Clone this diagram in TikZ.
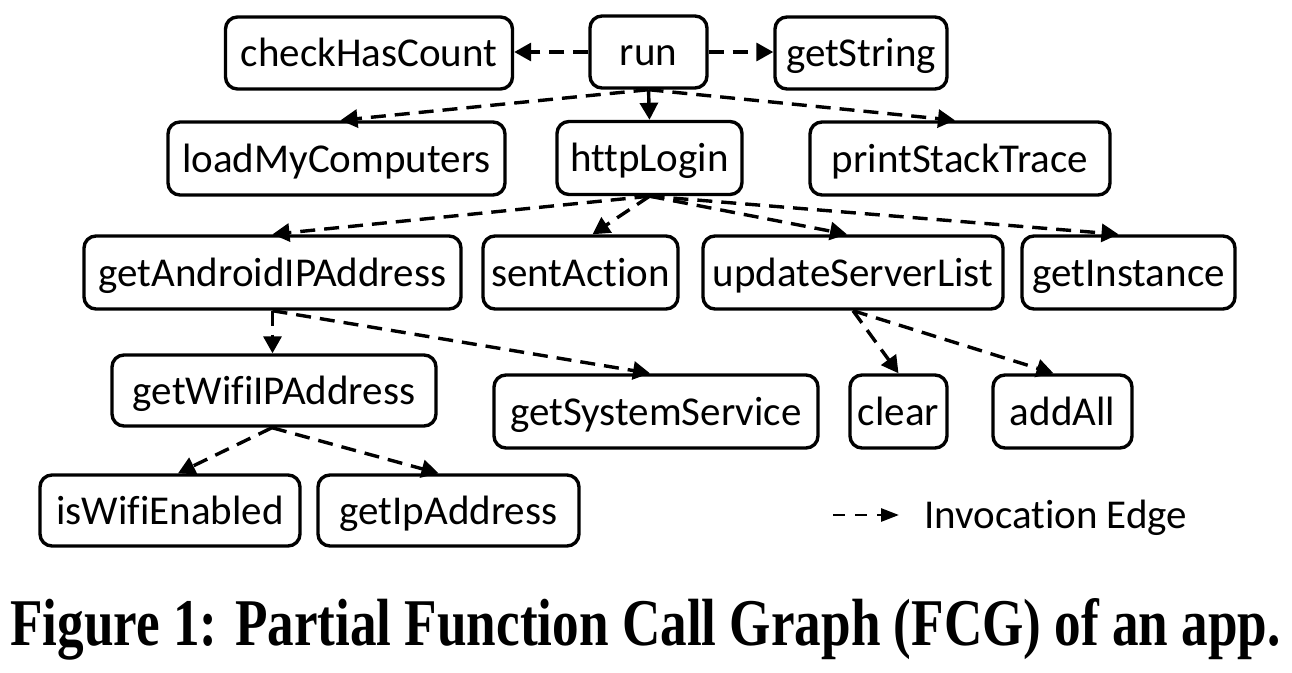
\documentclass[tikz,border=0pt]{standalone}
\usepackage{fontspec}
\setmainfont{Carlito}[RawFeature={-liga}]
\newfontfamily\capfont{Liberation Serif}
\usetikzlibrary{arrows.meta,calc}
\tikzset{
  fn/.style={draw, line width=3.4pt, rounded corners=12pt, inner sep=0pt,
    font=\fontsize{41}{49}\selectfont, text height=31pt, text depth=4pt},
  call/.style={line width=3.4pt, dash pattern=on 15pt off 9pt,
    -{Triangle[length=17pt,width=18pt]}},
  legcall/.style={line width=2.8pt, dash pattern=on 12pt off 10pt,
    -{Triangle[length=18pt,width=13pt]}},
  legtext/.style={inner sep=0pt, font=\fontsize{41}{49}\selectfont},
}
\begin{document}
\begin{tikzpicture}[x=1pt,y=-1pt]
\useasboundingbox (0,0) rectangle (1292,672);
% row 1
\node[fn, minimum width=287pt, minimum height=72pt] (checkHasCount) at (369,53) {checkHasCount};
\node[fn, minimum width=117pt, minimum height=72pt] (run) at (648.5,52) {run};
\node[fn, minimum width=172pt, minimum height=72pt] (getString) at (861,53) {getString};
% row 2
\node[fn, minimum width=337pt, minimum height=73pt] (loadMyComputers) at (336.5,158.5) {loadMyComputers};
\node[fn, minimum width=185pt, minimum height=73pt] (httpLogin) at (649.5,158) {httpLogin};
\node[fn, minimum width=300pt, minimum height=73pt] (printStackTrace) at (960,158.5) {printStackTrace};
% row 3
\node[fn, minimum width=377pt, minimum height=73pt] (getAndroidIPAddress) at (272.5,272.5) {getAndroidIPAddress};
\node[fn, minimum width=195pt, minimum height=73pt] (sentAction) at (580.5,272.5) {sentAction};
\node[fn, minimum width=300pt, minimum height=73pt] (updateServerList) at (853,272.5) {updateServerList};
\node[fn, minimum width=213pt, minimum height=73pt] (getInstance) at (1128.5,272.5) {getInstance};
% row 4
\node[fn, minimum width=324pt, minimum height=71pt] (getWifiIPAddress) at (274,390.5) {getWifiIPAddress};
\node[fn, minimum width=324pt, minimum height=73pt] (getSystemService) at (656,411.5) {getSystemService};
\node[fn, minimum width=97pt, minimum height=73pt] (clear) at (898.5,411.5) {clear};
\node[fn, minimum width=139pt, minimum height=73pt] (addAll) at (1062.5,411.5) {addAll};
% row 5
\node[fn, minimum width=260pt, minimum height=71pt] (isWifiEnabled) at (170,510.5) {isWifiEnabled};
\node[fn, minimum width=261pt, minimum height=71pt] (getIpAddress) at (448.5,510.5) {getIpAddress};

% edges
\draw[call] (run.west) -- (run.west -| checkHasCount.east);
\draw[call] (run.east) -- (run.east -| getString.west);
\draw[call] (run.south) -- ([xshift=4pt]loadMyComputers.north);
\draw[call] (run.south) -- (httpLogin.north);
\draw[call] (run.south) -- ([xshift=-5pt]printStackTrace.north);
\draw[call] (httpLogin.south) -- (getAndroidIPAddress.north);
\draw[call] (httpLogin.south) -- ([xshift=12pt]sentAction.north);
\draw[call] (httpLogin.south) -- ([xshift=-6pt]updateServerList.north);
\draw[call] (httpLogin.south) -- ([xshift=-10pt]getInstance.north);
\draw[call] (getAndroidIPAddress.south) -- (getAndroidIPAddress.south |- getWifiIPAddress.north);
\draw[call] (getAndroidIPAddress.south) -- ([xshift=-6pt]getSystemService.north);
\draw[call] (updateServerList.south) -- (clear.north);
\draw[call] (updateServerList.south) -- ([xshift=-9pt]addAll.north);
\draw[call] ([xshift=-2pt]getWifiIPAddress.south) -- ([xshift=8pt]isWifiEnabled.north);
\draw[call] ([xshift=-2pt]getWifiIPAddress.south) -- ([xshift=-10pt]getIpAddress.north);

% legend
\coordinate (legA) at (833,515);
\coordinate (legB) at (899,515);
\draw[legcall] (legA) -- (legB);
\node[legtext, anchor=base west] (legText) at (924,528) {Invocation Edge};

% caption
\node[anchor=base west, inner sep=0pt] (caption) at (10,645)
  {\resizebox{1270pt}{47pt}{\capfont\bfseries Figure 1: Partial Function Call Graph (FCG) of an app.}};
\end{tikzpicture}
\end{document}
